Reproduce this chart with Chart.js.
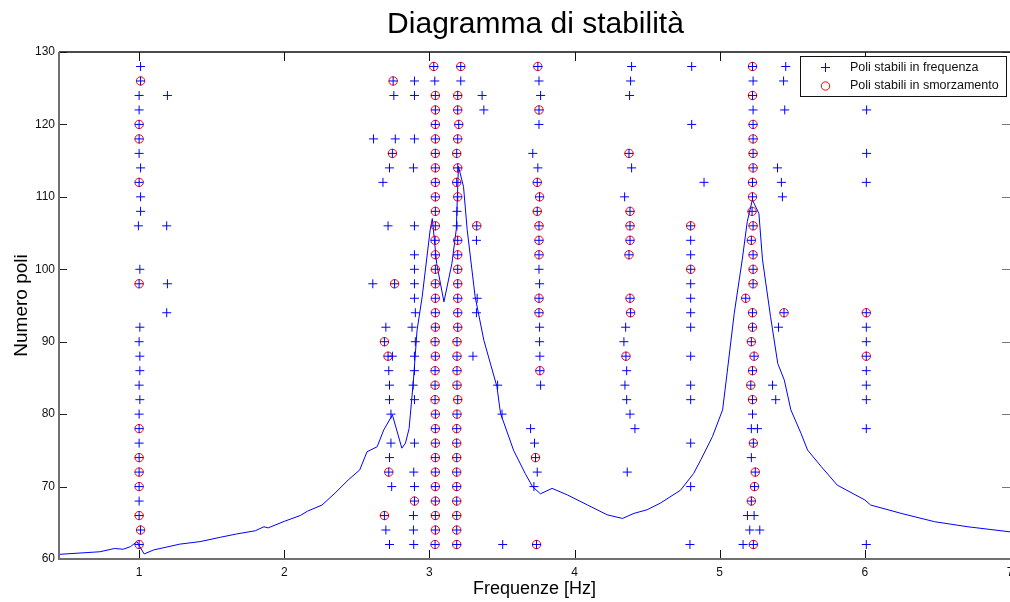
<!DOCTYPE html>
<html>
<head>
<meta charset="utf-8">
<script src="https://cdn.jsdelivr.net/npm/chart.js@4/dist/chart.umd.min.js"></script>
<style>
  html, body { margin: 0; padding: 0; background: #fff; overflow: hidden; }
  #wrap { width: 1010px; height: 602px; }
</style>
</head>
<body>
<div id="wrap"><canvas id="stab"></canvas></div>
<script>
const FONT = '"Liberation Sans", Arial, sans-serif';

// axis ticks
const xTickValues = [1, 2, 3, 4, 5, 6, 7];
const yTickValues = [60, 70, 80, 90, 100, 110, 120, 130];

// FRF curve drawn behind the poles: frequency [Hz] / amplitude (on the pole axis)
const curveFreq = [0.455, 0.73, 0.83, 0.89, 0.94, 0.985, 1.005, 1.035, 1.10, 1.28, 1.42, 1.56, 1.67, 1.80, 1.86, 1.89, 2.00, 2.11, 2.16, 2.26, 2.35, 2.44, 2.52, 2.57, 2.64, 2.685, 2.745, 2.81, 2.835, 2.86, 2.89, 2.915, 2.95, 3.005, 3.02, 3.05, 3.10, 3.155, 3.185, 3.20, 3.235, 3.26, 3.315, 3.375, 3.465, 3.49, 3.58, 3.66, 3.71, 3.765, 3.845, 3.95, 4.09, 4.225, 4.33, 4.41, 4.50, 4.59, 4.73, 4.82, 4.87, 4.95, 5.02, 5.045, 5.10, 5.155, 5.19, 5.225, 5.27, 5.295, 5.35, 5.40, 5.445, 5.49, 5.56, 5.605, 5.70, 5.81, 6.00, 6.04, 6.25, 6.48, 6.71, 7.00];
const curveAmp = [60.65, 61.0, 61.45, 61.35, 61.7, 62.4, 61.7, 60.7, 61.25, 62.05, 62.4, 63.0, 63.45, 63.9, 64.45, 64.3, 65.2, 66.0, 66.6, 67.45, 69.1, 70.9, 72.3, 74.8, 75.5, 77.8, 79.9, 75.3, 76.0, 78.0, 84.7, 91.6, 96.2, 105.4, 107.0, 100.8, 95.5, 100.8, 105.5, 114.2, 111.4, 105.5, 96.2, 90.2, 83.8, 80.1, 75.0, 71.8, 70.0, 69.0, 69.75, 68.85, 67.45, 66.1, 65.6, 66.3, 66.8, 67.7, 69.5, 71.8, 73.7, 76.9, 80.6, 84.7, 93.9, 101.3, 106.6, 109.6, 107.7, 101.3, 93.5, 87.0, 84.7, 80.6, 77.35, 75.05, 72.75, 70.2, 68.15, 67.45, 66.3, 65.15, 64.45, 63.75];

// poles stable only in frequency: [freq Hz, model order]
const freqOnlyPoles = [
  [1.01,128],[1.0,124],[1.0,122],[1.0,116],[1.01,114],[1.01,110],[1.01,108],[0.995,106],[1.005,100],
  [1.005,92],[1.0,90],[1.005,88],[1.005,86],[1.0,84],[1.005,82],[1.0,80],[1.0,76],[1.0,68],
  [1.195,124],[1.19,106],[1.195,98],[1.19,94],
  [2.755,124],[2.615,118],[2.765,118],[2.725,114],[2.68,112],[2.715,106],[2.61,98],[2.70,92],
  [2.745,88],[2.72,86],[2.725,84],[2.725,82],[2.735,80],[2.735,76],[2.725,74],[2.74,70],[2.70,64],[2.725,62],
  [2.897,126],[2.897,124],[2.897,118],[2.89,114],[2.897,106],[2.897,102],[2.897,100],[2.897,98],[2.897,96],
  [2.903,94],[2.88,92],[2.903,90],[2.897,88],[2.897,86],[2.888,84],[2.897,82],[2.897,76],[2.892,72],
  [2.897,70],[2.89,66],[2.89,64],[2.892,62],
  [3.037,126],[3.216,126],[3.19,108],[3.19,106],
  [3.363,124],[3.375,122],[3.324,104],[3.329,96],[3.324,94],[3.30,88],[3.47,84],[3.50,80],[3.505,62],
  [3.755,126],[3.766,124],[3.755,120],[3.712,116],[3.747,114],[3.755,100],[3.759,98],[3.759,92],
  [3.759,90],[3.761,88],[3.766,84],[3.697,78],[3.724,76],[3.743,72],[3.72,70],
  [4.393,128],[4.386,126],[4.379,124],[4.393,114],[4.345,110],[4.352,92],[4.34,90],[4.359,86],
  [4.347,84],[4.359,82],[4.382,80],[4.416,78],[4.363,72],
  [4.807,128],[4.807,120],[4.80,104],[4.80,102],[4.80,98],[4.80,96],[4.80,94],[4.80,92],[4.80,88],
  [4.80,84],[4.80,82],[4.80,76],[4.80,70],[4.795,62],[4.892,112],
  [5.23,126],[5.23,122],[5.226,80],[5.218,78],[5.26,78],[5.218,74],[5.191,66],[5.237,66],
  [5.207,64],[5.276,64],[5.161,62],
  [5.455,128],[5.44,126],[5.448,122],[5.398,114],[5.425,112],[5.432,110],[5.405,92],[5.364,84],[5.386,82],
  [6.012,122],[6.012,116],[6.01,112],[6.01,92],[6.01,90],[6.01,86],[6.01,84],[6.01,82],[6.01,78],[6.01,62]
];

// poles stable in frequency and damping: [freq Hz, model order]
const dampPoles = [
  [1.01,126],[1.0,120],[1.0,118],[1.0,112],[1.0,98],[1.0,78],[1.0,74],[1.0,72],[1.0,70],[1.0,66],[1.01,64],[1.0,62],
  [2.75,126],[2.745,116],[2.76,98],[2.69,90],[2.715,88],[2.72,72],[2.69,66],[2.897,68],
  [3.03,128],[3.041,124],[3.041,122],[3.041,120],[3.041,118],[3.041,116],[3.041,114],[3.041,112],
  [3.041,110],[3.041,108],[3.041,106],[3.039,104],[3.041,102],[3.041,100],[3.041,98],[3.041,96],
  [3.041,94],[3.041,92],[3.039,90],[3.041,88],[3.039,86],[3.039,84],[3.039,82],[3.041,80],[3.041,78],
  [3.041,76],[3.041,74],[3.041,72],[3.041,70],[3.041,68],[3.041,66],[3.041,64],[3.039,62],
  [3.216,128],[3.195,124],[3.195,122],[3.202,120],[3.195,118],[3.188,116],[3.195,114],[3.188,112],
  [3.195,110],[3.195,104],[3.195,102],[3.195,100],[3.195,98],[3.195,96],[3.195,94],[3.195,92],
  [3.19,90],[3.19,88],[3.19,86],[3.19,84],[3.195,82],[3.19,80],[3.188,78],[3.188,76],[3.188,74],
  [3.188,72],[3.188,70],[3.188,68],[3.188,66],[3.188,64],[3.188,62],
  [3.326,106],
  [3.747,128],[3.755,122],[3.743,112],[3.759,110],[3.743,108],[3.755,106],[3.755,104],[3.755,102],
  [3.755,96],[3.755,94],[3.761,86],[3.731,74],[3.738,62],
  [4.375,116],[4.382,108],[4.382,106],[4.382,104],[4.375,102],[4.382,96],[4.386,94],[4.354,88],
  [4.80,106],[4.80,100],
  [5.226,128],[5.226,124],[5.23,120],[5.23,118],[5.23,116],[5.23,114],[5.226,112],[5.226,110],
  [5.223,108],[5.23,106],[5.218,104],[5.23,102],[5.23,100],[5.23,98],[5.179,96],[5.226,94],
  [5.226,92],[5.218,90],[5.237,88],[5.226,86],[5.214,84],[5.226,82],[5.232,76],[5.245,72],
  [5.24,70],[5.218,68],[5.232,62],
  [5.443,94],[6.01,94],[6.01,88]
];

const toXY = arr => arr.map(([f, n]) => ({ x: f, y: n }));
const curvePoints = curveFreq.map((f, i) => ({ x: f, y: curveAmp[i] }));

// frame, inward ticks, title and inside legend, MATLAB style
const matlabAxes = {
  id: 'matlabAxes',
  afterDraw(chart) {
    const { ctx, chartArea: a, scales: { x, y } } = chart;
    ctx.save();
    // ticks
    ctx.lineWidth = 1;
    xTickValues.forEach(v => {
      const px = Math.round(x.getPixelForValue(v)) + 0.5;
      ctx.strokeStyle = '#111';
      ctx.beginPath();
      ctx.moveTo(px, a.top); ctx.lineTo(px, a.top + 9);
      ctx.moveTo(px, a.bottom); ctx.lineTo(px, a.bottom - 9);
      ctx.stroke();
    });
    yTickValues.forEach(v => {
      const py = Math.round(y.getPixelForValue(v)) + 0.5;
      ctx.strokeStyle = '#222';
      ctx.beginPath();
      ctx.moveTo(a.left, py); ctx.lineTo(a.left + 8, py);
      ctx.stroke();
      ctx.strokeStyle = '#777';
      ctx.beginPath();
      ctx.moveTo(a.right, py); ctx.lineTo(a.right - 8, py);
      ctx.stroke();
    });
    // frame
    ctx.strokeStyle = '#111';
    ctx.lineWidth = 1.5;
    ctx.beginPath();
    ctx.moveTo(a.left, a.top); ctx.lineTo(a.right, a.top);
    ctx.stroke();
    ctx.strokeStyle = '#707070';
    ctx.lineWidth = 2;
    ctx.beginPath();
    ctx.moveTo(a.left, a.top); ctx.lineTo(a.left, a.bottom); ctx.lineTo(a.right, a.bottom);
    ctx.stroke();

    // title
    ctx.fillStyle = '#000';
    ctx.font = '30px ' + FONT;
    ctx.textAlign = 'center';
    ctx.textBaseline = 'alphabetic';
    ctx.fillText('Diagramma di stabilità', 535.5, 33);

    // legend
    const lx = 800.5, ly = 56.5, lw = 206, lh = 40;
    ctx.fillStyle = '#fff';
    ctx.fillRect(lx, ly, lw, lh);
    ctx.strokeStyle = '#111';
    ctx.lineWidth = 1;
    ctx.strokeRect(lx, ly, lw, lh);
    ctx.strokeStyle = '#0000ff';
    ctx.beginPath();
    ctx.moveTo(821, 67.5); ctx.lineTo(830, 67.5);
    ctx.moveTo(825.5, 63); ctx.lineTo(825.5, 72);
    ctx.stroke();
    ctx.strokeStyle = '#ff0000';
    ctx.beginPath();
    ctx.arc(825.5, 86, 4.2, 0, Math.PI * 2);
    ctx.stroke();
    ctx.fillStyle = '#111';
    ctx.font = '12.5px ' + FONT;
    ctx.textAlign = 'left';
    ctx.textBaseline = 'middle';
    ctx.fillText('Poli stabili in frequenza', 850, 67.5);
    ctx.fillText('Poli stabili in smorzamento', 850, 86);
    ctx.restore();
  }
};

new Chart(document.getElementById('stab'), {
  type: 'scatter',
  data: {
    datasets: [
      {
        label: 'Poli stabili in frequenza',
        data: toXY(freqOnlyPoles.concat(dampPoles)),
        pointStyle: 'cross',
        pointRadius: 4.5,
        borderColor: '#0000ff',
        borderWidth: 1
      },
      {
        label: 'Poli stabili in smorzamento',
        data: toXY(dampPoles),
        pointStyle: 'circle',
        pointRadius: 4.2,
        borderColor: '#ff0000',
        backgroundColor: 'rgba(0,0,0,0)',
        borderWidth: 1
      },
      {
        label: 'FRF',
        data: curvePoints,
        showLine: true,
        pointRadius: 0,
        borderColor: '#0000ff',
        borderWidth: 1,
        tension: 0
      }
    ]
  },
  options: {
    responsive: true,
    maintainAspectRatio: false,
    animation: false,
    events: [],
    layout: { autoPadding: false, padding: { top: 52, right: 0, left: 0, bottom: 0 } },
    plugins: {
      legend: { display: false },
      tooltip: { enabled: false },
      title: { display: false }
    },
    scales: {
      x: {
        type: 'linear',
        min: 0.448,
        max: 7,
        grid: { display: false, drawTicks: false },
        border: { display: false },
        afterBuildTicks: s => { s.ticks = xTickValues.map(v => ({ value: v })); },
        afterFit: s => { s.height = 43; s.paddingLeft = 0; s.paddingRight = 0; },
        ticks: { padding: 6, color: '#111', autoSkip: false, maxRotation: 0, font: { size: 12, family: FONT } },
        title: { display: true, text: 'Frequenze [Hz]', color: '#000', font: { size: 18, family: FONT }, padding: { top: 0, bottom: 2 } }
      },
      y: {
        type: 'linear',
        min: 60,
        max: 130,
        grid: { display: false, drawTicks: false },
        border: { display: false },
        afterBuildTicks: s => { s.ticks = yTickValues.map(v => ({ value: v })); },
        afterFit: s => { s.width = 59; s.paddingTop = 0; s.paddingBottom = 0; },
        ticks: { padding: 4, color: '#111', autoSkip: false, font: { size: 12, family: FONT } },
        title: { display: true, text: 'Numero poli', color: '#000', font: { size: 19, family: FONT }, padding: { top: 10, bottom: 0 } }
      }
    }
  },
  plugins: [matlabAxes]
});
</script>
</body>
</html>
